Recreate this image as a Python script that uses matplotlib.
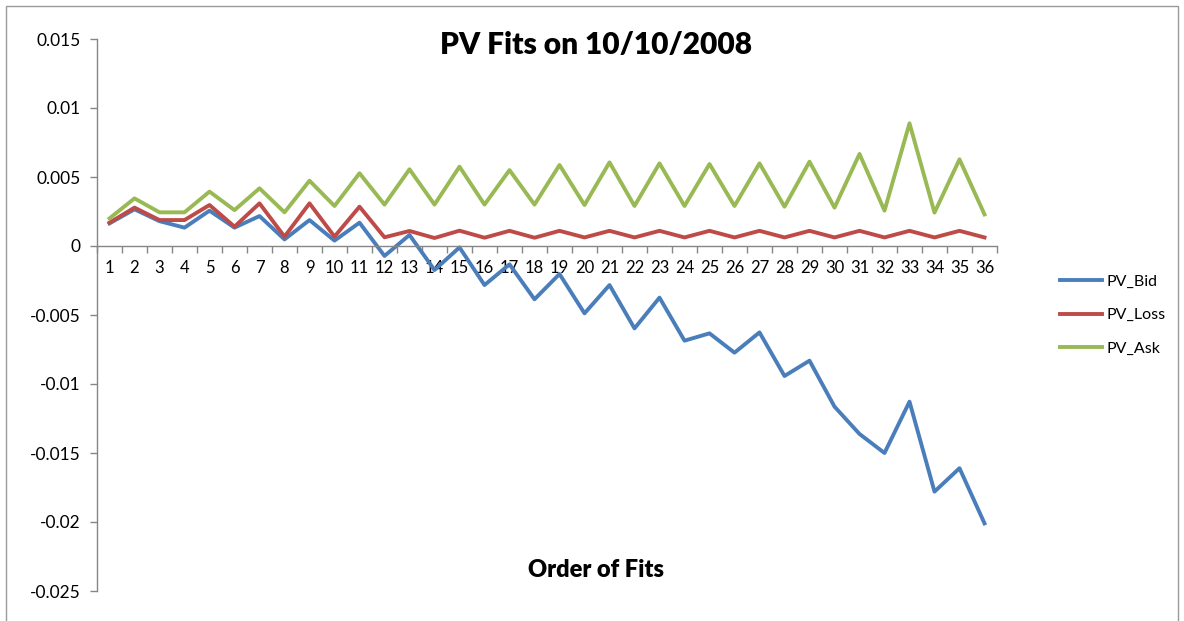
import matplotlib.pyplot as plt
from matplotlib.patches import Rectangle
from matplotlib.ticker import FixedLocator

plt.rcParams['font.family'] = ['Lato', 'DejaVu Sans']

fits = list(range(1, 37))

pv_bid = [0.00164, 0.00266, 0.00180, 0.00133, 0.00256, 0.00133, 0.00217, 0.00048, 0.00188, 0.00039,
          0.00169, -0.00072, 0.00080, -0.00174, -0.00010, -0.00283, -0.00133, -0.00386, -0.00203, -0.00488,
          -0.00283, -0.00597, -0.00374, -0.00686, -0.00633, -0.00773, -0.00626, -0.00942, -0.00831, -0.01164,
          -0.01362, -0.01500, -0.01128, -0.01780, -0.01610, -0.02010]

pv_loss = [0.00169, 0.00278, 0.00188, 0.00188, 0.00297, 0.00140, 0.00309, 0.00068, 0.00309, 0.00068,
           0.00285, 0.00063, 0.00109, 0.00058, 0.00111, 0.00060, 0.00110, 0.00060, 0.00110, 0.00062,
           0.00110, 0.00062, 0.00110, 0.00062, 0.00110, 0.00062, 0.00110, 0.00062, 0.00110, 0.00062,
           0.00110, 0.00062, 0.00110, 0.00062, 0.00110, 0.00062]

pv_ask = [0.00200, 0.00345, 0.00244, 0.00244, 0.00394, 0.00260, 0.00418, 0.00244, 0.00473, 0.00290,
          0.00527, 0.00300, 0.00556, 0.00300, 0.00575, 0.00300, 0.00550, 0.00300, 0.00587, 0.00297,
          0.00606, 0.00290, 0.00599, 0.00290, 0.00594, 0.00290, 0.00599, 0.00285, 0.00611, 0.00278,
          0.00667, 0.00256, 0.00889, 0.00242, 0.00628, 0.00229]

y_ticks = [0.015, 0.01, 0.005, 0, -0.005, -0.01, -0.015, -0.02, -0.025]

fig = plt.figure(figsize=(11.84, 6.21), dpi=100)
ax = fig.add_axes([97 / 1184, 30 / 621, 900 / 1184, 552 / 621])

ax.plot(fits, pv_bid, color='#4A7EBB', lw=2.8, label='PV_Bid')
ax.plot(fits, pv_loss, color='#BE4B48', lw=2.8, label='PV_Loss')
ax.plot(fits, pv_ask, color='#98B954', lw=2.8, label='PV_Ask')

ax.set_xlim(0.5, 36.5)
ax.set_ylim(-0.025, 0.015)

# y axis
ax.set_yticks(y_ticks)
ax.set_yticklabels(['%g' % v for v in y_ticks], fontsize=12.5)
ax.tick_params(axis='y', length=5, width=1, color='#868686', pad=7)

# x axis at zero, category ticks between labels
ax.spines['bottom'].set_position(('data', 0))
ax.set_xticks(fits)
ax.set_xticklabels([str(i) for i in fits], fontsize=12)
ax.tick_params(axis='x', which='major', length=0, pad=10)
ax.xaxis.set_minor_locator(FixedLocator([i + 0.5 for i in range(0, 37)]))
ax.tick_params(axis='x', which='minor', length=5, width=1, color='#868686')

for side in ['top', 'right']:
    ax.spines[side].set_visible(False)
for side in ['left', 'bottom']:
    ax.spines[side].set_color('#868686')
    ax.spines[side].set_linewidth(1)

fig.text(596 / 1184, 1 - 45 / 621, 'PV Fits on 10/10/2008', ha='center', va='center',
         fontsize=21.5, fontweight='heavy')
fig.text(596 / 1184, 1 - 570 / 621, 'Order of Fits', ha='center', va='center',
         fontsize=17, fontweight='heavy')

fig.legend(loc='center left', bbox_to_anchor=(1046 / 1184, 1 - 315 / 621), frameon=False,
           fontsize=11.5, handlelength=2.6, handletextpad=0.3, labelspacing=1.2)

fig.patches.append(Rectangle((6 / 1184, -0.02), 1172 / 1184, 1.02 - 6 / 621,
                             transform=fig.transFigure, fill=False, edgecolor='#9a9a9a', lw=1))

fig.savefig('out.png', dpi=100)
